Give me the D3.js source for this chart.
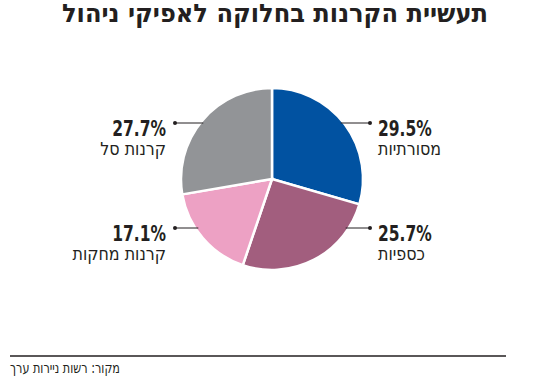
<!DOCTYPE html>
<html>
<head>
<meta charset="utf-8">
<script src="https://cdn.jsdelivr.net/npm/d3@7"></script>
<style>
  body { margin: 0; background: #fff; }
  svg { display: block; }
  text { font-family: "Liberation Sans Narrow", "DejaVu Sans Condensed", "DejaVu Sans", sans-serif; fill: #231f20; }
</style>
</head>
<body>
<div id="chart"></div>
<script>
const title = 'תעשיית הקרנות בחלוקה לאפיקי ניהול';
const source = 'מקור: רשות ניירות ערך';
const categories = ['מסורתיות', 'כספיות', 'קרנות מחקות', 'קרנות סל'];
const values = [29.5, 25.7, 17.1, 27.7];
const colors = ['#0152a1', '#a25e7e', '#eda1c4', '#929497'];

const width = 550, height = 381;
const cx = 272, cy = 179, r = 91;

const svg = d3.select('#chart').append('svg')
  .attr('width', width)
  .attr('height', height);

// squeeze a text node horizontally, the print graphic uses a condensed face
function condense(sel, k) {
  sel.each(function() {
    const w = this.getComputedTextLength();
    d3.select(this).attr('textLength', w * k).attr('lengthAdjust', 'spacingAndGlyphs');
  });
}

svg.append('text')
  .attr('x', 275)
  .attr('y', 22)
  .attr('text-anchor', 'middle')
  .style('font-size', '25px')
  .style('font-weight', 'bold')
  .text(title)
  .attr('textLength', 426)
  .attr('lengthAdjust', 'spacingAndGlyphs');

const data = categories.map((c, i) => ({ name: c, value: values[i], color: colors[i] }));

const pie = d3.pie().sort(null).value(d => d.value);
const arc = d3.arc().innerRadius(0).outerRadius(r);
const arcs = pie(data);

const g = svg.append('g').attr('transform', `translate(${cx},${cy})`);

g.selectAll('path')
  .data(arcs)
  .enter()
  .append('path')
  .attr('d', arc)
  .attr('fill', d => d.data.color)
  .attr('stroke', '#fff')
  .attr('stroke-width', 2.5);

// labels: right column for the first two slices, left column for the rest
const labelPos = [
  { side: 'right', y: 123 },
  { side: 'right', y: 228 },
  { side: 'left', y: 228 },
  { side: 'left', y: 123 }
];

const labels = svg.selectAll('.lbl')
  .data(arcs)
  .enter()
  .append('g')
  .attr('class', 'lbl');

labels.each(function(d, i) {
  const p = labelPos[i];
  const el = d3.select(this);
  const right = p.side === 'right';
  const dy = p.y - cy;
  const edgeX = cx + (right ? 1 : -1) * Math.sqrt(r * r - dy * dy);
  const dotX = right ? 370 : 175;
  const lineStart = right ? edgeX - 3 : edgeX + 3;

  el.append('line')
    .attr('x1', lineStart)
    .attr('x2', dotX)
    .attr('y1', p.y)
    .attr('y2', p.y)
    .attr('stroke', '#231f20')
    .attr('stroke-width', 1);
  el.append('circle')
    .attr('cx', dotX)
    .attr('cy', p.y)
    .attr('r', 2)
    .attr('fill', '#231f20');

  const tx = right ? 378 : 166;
  const anchor = right ? 'start' : 'end';
  el.append('text')
    .attr('x', tx)
    .attr('y', p.y + 13)
    .attr('text-anchor', anchor)
    .style('font-size', '21px')
    .style('font-weight', 'bold')
    .text(d.data.value.toFixed(1) + '%')
    .call(condense, 0.82);
  el.append('text')
    .attr('x', tx)
    .attr('y', p.y + 32)
    .attr('text-anchor', anchor)
    .style('font-size', '18px')
    .text(d.data.name)
    .call(condense, 0.98);
});

// footer
svg.append('line')
  .attr('x1', 10)
  .attr('x2', 506)
  .attr('y1', 356)
  .attr('y2', 356)
  .attr('stroke', '#231f20')
  .attr('stroke-width', 1.5);

svg.append('text')
  .attr('x', 10)
  .attr('y', 373)
  .attr('text-anchor', 'start')
  .style('font-size', '15px')
  .text(source)
  .attr('textLength', 110)
  .attr('lengthAdjust', 'spacingAndGlyphs');
</script>
</body>
</html>
